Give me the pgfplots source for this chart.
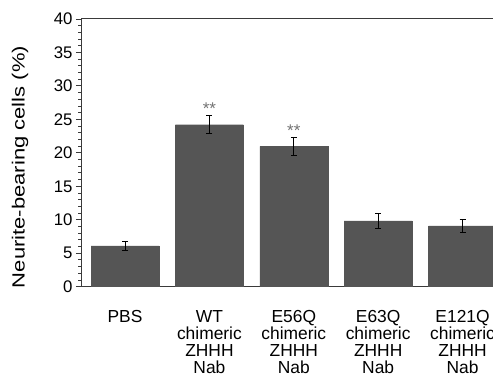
\documentclass[border=0pt]{standalone}
\usepackage{pgfplots}
\pgfplotsset{compat=1.18}
\usepackage{pgfplotstable}
\usepackage{fontspec}
\setmainfont{Liberation Sans}
\usepackage{graphicx}
\definecolor{barc}{HTML}{555555}
\definecolor{axc}{HTML}{3A3A3A}
\pgfplotstableread{
x y e
0 6.1 0.72
1 24.2 1.35
2 20.95 1.33
3 9.83 1.1
4 9.1 0.97
}\datatable
\begin{document}
\begin{tikzpicture}
\begin{axis}[
  scale only axis,
  width=423.6pt, height=267.7pt,
  xmin=-0.51, xmax=4.51,
  ymin=0, ymax=40,
  ytick={0,5,...,40},
  minor y tick num=4,
  ytick pos=left,
  tick align=outside,
  major tick length=6pt,
  minor tick length=3.5pt,
  xtick={0,1,2,3,4},
  xticklabels={PBS,{WT\\chimeric\\ZHHH\\Nab},{E56Q\\chimeric\\ZHHH\\Nab},{E63Q\\chimeric\\ZHHH\\Nab},{E121Q\\chimeric\\ZHHH\\Nab}},
  xtick style={draw=none},
  xticklabel style={align=center, inner sep=0pt, font=\fontsize{17.4}{17}\selectfont, yshift=-17.5pt},
  yticklabel style={font=\fontsize{16.8}{18.6}\selectfont},
  /pgf/number format/assume math mode=true,
  axis line style={axc, line width=1pt},
  every tick/.style={axc, line width=0.9pt},
  ylabel={\scalebox{1.31}[1.05]{Neurite-bearing cells (\%)}},
  ylabel style={at={(axis description cs:-0.146,0.447)}, anchor=center, font=\fontsize{16.8}{18.6}\selectfont},
  clip=false,
]
\addplot[ybar, bar width=68pt, fill=barc, draw=barc,
  error bars/.cd, y dir=both, y explicit,
  error bar style={black, line width=0.9pt},
  error mark options={black, rotate=90, mark size=3pt, line width=0.9pt}]
  table[x=x, y=y, y error=e]{\datatable};
\node[anchor=base, text=black!55, font=\fontsize{17}{17}\selectfont, yshift=1pt] at (axis cs:1,25.55) {**};
\node[anchor=base, text=black!55, font=\fontsize{17}{17}\selectfont, yshift=1pt] at (axis cs:2,22.28) {**};
\coordinate (SW) at (rel axis cs:0,0);
\coordinate (NW) at (rel axis cs:0,1);
\end{axis}
\pgfresetboundingbox
\path[use as bounding box] ([xshift=-82pt,yshift=-88.3pt]SW) rectangle ([xshift=411pt,yshift=19pt]NW);
\end{tikzpicture}
\end{document}
